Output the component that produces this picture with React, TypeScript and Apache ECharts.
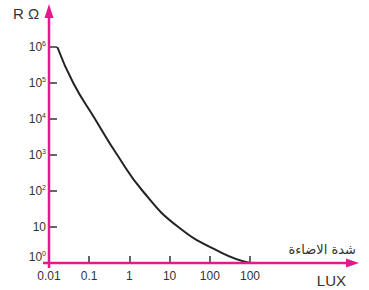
import React, { useEffect, useRef } from "react";
import * as echarts from "echarts";

const lux = [0.0161, 0.0402, 0.1394, 0.5, 2.14, 16.46, 197.7, 1000];
const resistance = [1e6, 1e5, 1e4, 1e3, 100, 10, 1.92, 1];

const xTickValues = [0.01, 0.1, 1, 10, 100, 1000];
const xTickLabels = ["0.01", "0.1", "1", "10", "100", "100"];
const yTickValues = [1, 10, 100, 1000, 1e4, 1e5, 1e6];

const yTitle = "R Ω";
const xTitle = "LUX";
const xSubTitle = "شدة الاضاءة";

const PINK = "#E5198B";
const INK = "#333333";
const FONT = "Liberation Sans, Arial, sans-serif";

export default function App() {
  const ref = useRef<HTMLDivElement>(null);
  useEffect(() => {
    document.body.style.margin = "0";
    const chart = echarts.init(ref.current!, null, { renderer: "svg" });
    const findIdx = (v: number, arr: number[]) =>
      arr.findIndex((t) => Math.abs(Math.log10(t) - Math.log10(v)) < 1e-6);
    chart.setOption({
      animation: false,
      grid: { left: 49, right: 119, top: 47, bottom: 27 },
      xAxis: {
        type: "log",
        logBase: 10,
        min: 0.01,
        max: 1000,
        axisLine: { show: false },
        splitLine: { show: false },
        axisTick: { inside: true, length: 7, lineStyle: { color: INK, width: 1.5 } },
        axisLabel: {
          margin: 7,
          fontSize: 12,
          color: INK,
          fontFamily: FONT,
          formatter: (v: number) => {
            const i = findIdx(v, xTickValues);
            return i >= 0 ? xTickLabels[i] : "";
          },
        },
      },
      yAxis: {
        type: "log",
        logBase: 10,
        min: 1,
        max: 1e6,
        axisLine: { show: false },
        splitLine: { show: false },
        axisTick: { inside: true, length: 8, lineStyle: { color: INK, width: 1.5 } },
        axisLabel: {
          margin: 3,
          color: INK,
          fontFamily: FONT,
          formatter: (v: number) => {
            const i = findIdx(v, yTickValues);
            if (i < 0) return "";
            if (i === 1) return "{b|10}";
            if (i === 0) return "{z|10}{zs|0}";
            return `{b|10}{s|${i}}`;
          },
          rich: {
            b: { fontSize: 12, color: INK, fontFamily: FONT },
            s: { fontSize: 7, color: INK, fontFamily: FONT, verticalAlign: "top", padding: [0, 0, 8, 0] },
            z: { fontSize: 12, color: INK, fontFamily: FONT, padding: [0, 0, 12, 0] },
            zs: { fontSize: 7, color: INK, fontFamily: FONT, padding: [0, 0, 20, 0] },
          },
        },
      },
      series: [
        {
          type: "line",
          data: lux.map((x, i) => [x, resistance[i]]),
          showSymbol: false,
          smooth: 0.5,
          lineStyle: { color: "#222", width: 2 },
          z: 3,
        },
      ],
    });

    const o = chart.convertToPixel({ gridIndex: 0 }, [0.01, 1]) as number[];
    const ox = o[0];
    const oy = o[1];
    chart.setOption({
      graphic: [
        {
          type: "line",
          shape: { x1: ox, y1: oy + 5, x2: ox, y2: 14 },
          style: { stroke: PINK, lineWidth: 2.5 },
          z: 10,
        },
        {
          type: "polygon",
          shape: { points: [[ox, 4], [ox - 4.5, 18], [ox + 4.5, 18]] },
          style: { fill: PINK },
          z: 10,
        },
        {
          type: "line",
          shape: { x1: ox - 6, y1: oy, x2: 350, y2: oy },
          style: { stroke: PINK, lineWidth: 2.5 },
          z: 10,
        },
        {
          type: "polygon",
          shape: { points: [[359, oy], [346, oy - 4.5], [346, oy + 4.5]] },
          style: { fill: PINK },
          z: 10,
        },
        {
          type: "text",
          x: 13,
          y: 13,
          style: { text: yTitle, fontSize: 15, fill: INK, fontFamily: FONT, verticalAlign: "middle" },
        },
        {
          type: "text",
          x: 346,
          y: 280,
          style: { text: xTitle, fontSize: 15, fill: INK, fontFamily: FONT, align: "right", verticalAlign: "middle" },
        },
        {
          type: "text",
          x: 356,
          y: 249,
          style: { text: xSubTitle, fontSize: 13, fill: INK, fontFamily: "DejaVu Sans, sans-serif", align: "right", verticalAlign: "middle" },
        },
      ],
    });
    return () => chart.dispose();
  }, []);
  return <div ref={ref} style={{ width: 369, height: 290 }} />;
}
